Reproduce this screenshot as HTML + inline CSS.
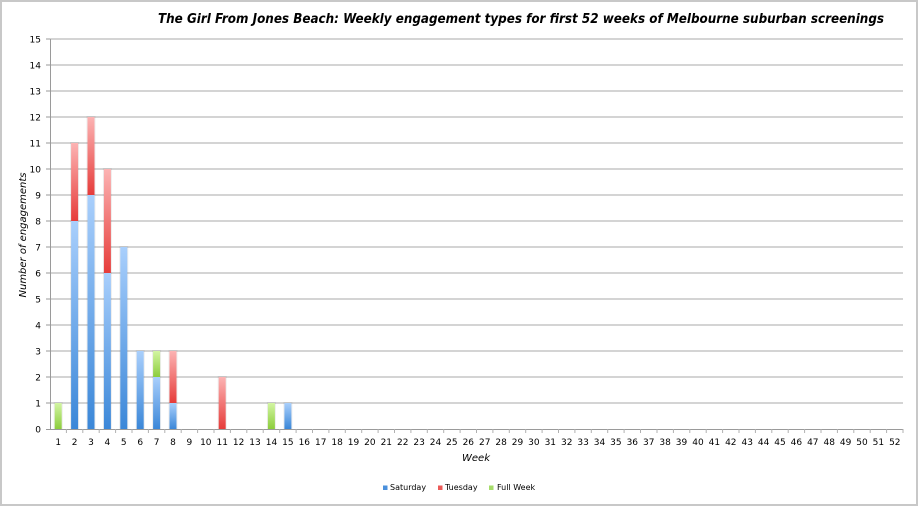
<!DOCTYPE html>
<html><head><meta charset="utf-8"><style>
html,body{margin:0;padding:0;background:#fff;}
svg{display:block;}
text{font-family:"DejaVu Sans","Liberation Sans",sans-serif;fill:#000;}
</style></head><body>
<svg width="918" height="506" viewBox="0 0 918 506" xmlns="http://www.w3.org/2000/svg">
<defs>
<linearGradient id="gb" x1="0" y1="0" x2="0" y2="1"><stop offset="0" stop-color="#a9cffc"/><stop offset="1" stop-color="#3b87d8"/></linearGradient>
<linearGradient id="gr" x1="0" y1="0" x2="0" y2="1"><stop offset="0" stop-color="#fcb3b3"/><stop offset="1" stop-color="#e63c3a"/></linearGradient>
<linearGradient id="gg" x1="0" y1="0" x2="0" y2="1"><stop offset="0" stop-color="#d2f5a2"/><stop offset="1" stop-color="#8ccd3c"/></linearGradient>
</defs>
<rect x="0" y="0" width="918" height="506" fill="#fff"/>
<rect x="1" y="1" width="916" height="504" fill="none" stroke="#c8c8c8" stroke-width="2"/>

<text x="158" y="23" font-size="13" font-weight="bold" font-style="italic" textLength="726" lengthAdjust="spacingAndGlyphs">The Girl From Jones Beach: Weekly engagement types for first 52 weeks of Melbourne suburban screenings</text>

<!-- gridlines -->
<g stroke="#c6c6c6" stroke-width="1.6">
<line x1="50" y1="403" x2="903" y2="403"/><line x1="50" y1="377" x2="903" y2="377"/><line x1="50" y1="351" x2="903" y2="351"/><line x1="50" y1="325" x2="903" y2="325"/><line x1="50" y1="299" x2="903" y2="299"/><line x1="50" y1="273" x2="903" y2="273"/><line x1="50" y1="247" x2="903" y2="247"/><line x1="50" y1="221" x2="903" y2="221"/><line x1="50" y1="195" x2="903" y2="195"/><line x1="50" y1="169" x2="903" y2="169"/><line x1="50" y1="143" x2="903" y2="143"/><line x1="50" y1="117" x2="903" y2="117"/><line x1="50" y1="91" x2="903" y2="91"/><line x1="50" y1="65" x2="903" y2="65"/><line x1="50" y1="39" x2="903" y2="39"/>
</g>

<!-- bars shadows -->
<g fill="#000" fill-opacity="0.07">
<rect x="53.7" y="402" width="9" height="27"/>
<rect x="70.1" y="142" width="9" height="287"/>
<rect x="86.5" y="116" width="9" height="313"/>
<rect x="102.9" y="168" width="9" height="261"/>
<rect x="119.3" y="246" width="9" height="183"/>
<rect x="135.7" y="350" width="9" height="79"/>
<rect x="152.1" y="350" width="9" height="79"/>
<rect x="168.5" y="350" width="9" height="79"/>
<rect x="217.7" y="376" width="9" height="53"/>
<rect x="266.9" y="402" width="9" height="27"/>
<rect x="283.4" y="402" width="9" height="27"/>
</g>
<!-- bars -->
<rect x="54.7" y="403" width="7" height="26" fill="url(#gg)"/>
<rect x="71.1" y="221" width="7" height="208" fill="url(#gb)"/>
<rect x="71.1" y="143" width="7" height="78" fill="url(#gr)"/>
<rect x="87.5" y="195" width="7" height="234" fill="url(#gb)"/>
<rect x="87.5" y="117" width="7" height="78" fill="url(#gr)"/>
<rect x="103.9" y="273" width="7" height="156" fill="url(#gb)"/>
<rect x="103.9" y="169" width="7" height="104" fill="url(#gr)"/>
<rect x="120.3" y="247" width="7" height="182" fill="url(#gb)"/>
<rect x="136.7" y="351" width="7" height="78" fill="url(#gb)"/>
<rect x="153.1" y="377" width="7" height="52" fill="url(#gb)"/>
<rect x="153.1" y="351" width="7" height="26" fill="url(#gg)"/>
<rect x="169.5" y="403" width="7" height="26" fill="url(#gb)"/>
<rect x="169.5" y="351" width="7" height="52" fill="url(#gr)"/>
<rect x="218.7" y="377" width="7" height="52" fill="url(#gr)"/>
<rect x="267.9" y="403" width="7" height="26" fill="url(#gg)"/>
<rect x="284.4" y="403" width="7" height="26" fill="url(#gb)"/>

<!-- axes -->
<g stroke="#9a9a9a" stroke-width="1">
<line x1="50.5" y1="39" x2="50.5" y2="429"/>
<line x1="46" y1="429.5" x2="903" y2="429.5"/>
<line x1="46" y1="403" x2="50" y2="403"/><line x1="46" y1="377" x2="50" y2="377"/><line x1="46" y1="351" x2="50" y2="351"/><line x1="46" y1="325" x2="50" y2="325"/><line x1="46" y1="299" x2="50" y2="299"/><line x1="46" y1="273" x2="50" y2="273"/><line x1="46" y1="247" x2="50" y2="247"/><line x1="46" y1="221" x2="50" y2="221"/><line x1="46" y1="195" x2="50" y2="195"/><line x1="46" y1="169" x2="50" y2="169"/><line x1="46" y1="143" x2="50" y2="143"/><line x1="46" y1="117" x2="50" y2="117"/><line x1="46" y1="91" x2="50" y2="91"/><line x1="46" y1="65" x2="50" y2="65"/><line x1="46" y1="39" x2="50" y2="39"/>
</g>
<g stroke="#b0b0b0" stroke-width="1">
<line x1="66.4" y1="429" x2="66.4" y2="433"/><line x1="82.8" y1="429" x2="82.8" y2="433"/><line x1="99.2" y1="429" x2="99.2" y2="433"/><line x1="115.6" y1="429" x2="115.6" y2="433"/><line x1="132" y1="429" x2="132" y2="433"/><line x1="148.4" y1="429" x2="148.4" y2="433"/><line x1="164.8" y1="429" x2="164.8" y2="433"/><line x1="181.2" y1="429" x2="181.2" y2="433"/><line x1="197.6" y1="429" x2="197.6" y2="433"/><line x1="214" y1="429" x2="214" y2="433"/><line x1="230.4" y1="429" x2="230.4" y2="433"/><line x1="246.8" y1="429" x2="246.8" y2="433"/><line x1="263.2" y1="429" x2="263.2" y2="433"/><line x1="279.7" y1="429" x2="279.7" y2="433"/><line x1="296.1" y1="429" x2="296.1" y2="433"/><line x1="312.5" y1="429" x2="312.5" y2="433"/><line x1="328.9" y1="429" x2="328.9" y2="433"/><line x1="345.3" y1="429" x2="345.3" y2="433"/><line x1="361.7" y1="429" x2="361.7" y2="433"/><line x1="378.1" y1="429" x2="378.1" y2="433"/><line x1="394.5" y1="429" x2="394.5" y2="433"/><line x1="410.9" y1="429" x2="410.9" y2="433"/><line x1="427.3" y1="429" x2="427.3" y2="433"/><line x1="443.7" y1="429" x2="443.7" y2="433"/><line x1="460.1" y1="429" x2="460.1" y2="433"/><line x1="476.5" y1="429" x2="476.5" y2="433"/><line x1="492.9" y1="429" x2="492.9" y2="433"/><line x1="509.3" y1="429" x2="509.3" y2="433"/><line x1="525.7" y1="429" x2="525.7" y2="433"/><line x1="542.1" y1="429" x2="542.1" y2="433"/><line x1="558.5" y1="429" x2="558.5" y2="433"/><line x1="574.9" y1="429" x2="574.9" y2="433"/><line x1="591.3" y1="429" x2="591.3" y2="433"/><line x1="607.7" y1="429" x2="607.7" y2="433"/><line x1="624.1" y1="429" x2="624.1" y2="433"/><line x1="640.5" y1="429" x2="640.5" y2="433"/><line x1="657" y1="429" x2="657" y2="433"/><line x1="673.4" y1="429" x2="673.4" y2="433"/><line x1="689.8" y1="429" x2="689.8" y2="433"/><line x1="706.2" y1="429" x2="706.2" y2="433"/><line x1="722.6" y1="429" x2="722.6" y2="433"/><line x1="739" y1="429" x2="739" y2="433"/><line x1="755.4" y1="429" x2="755.4" y2="433"/><line x1="771.8" y1="429" x2="771.8" y2="433"/><line x1="788.2" y1="429" x2="788.2" y2="433"/><line x1="804.6" y1="429" x2="804.6" y2="433"/><line x1="821" y1="429" x2="821" y2="433"/><line x1="837.4" y1="429" x2="837.4" y2="433"/><line x1="853.8" y1="429" x2="853.8" y2="433"/><line x1="870.2" y1="429" x2="870.2" y2="433"/><line x1="886.6" y1="429" x2="886.6" y2="433"/><line x1="903" y1="429" x2="903" y2="433"/>
</g>

<!-- y labels -->
<g font-size="9" text-anchor="end">
<text x="41" y="432.5">0</text><text x="41" y="406.5">1</text><text x="41" y="380.5">2</text><text x="41" y="354.5">3</text><text x="41" y="328.5">4</text><text x="41" y="302.5">5</text><text x="41" y="276.5">6</text><text x="41" y="250.5">7</text><text x="41" y="224.5">8</text><text x="41" y="198.5">9</text><text x="41" y="172.5">10</text><text x="41" y="146.5">11</text><text x="41" y="120.5">12</text><text x="41" y="94.5">13</text><text x="41" y="68.5">14</text><text x="41" y="42.5">15</text>
</g>

<!-- x labels -->
<g font-size="9" text-anchor="middle">
<text x="58.2" y="445">1</text><text x="74.6" y="445">2</text><text x="91" y="445">3</text><text x="107.4" y="445">4</text><text x="123.8" y="445">5</text><text x="140.2" y="445">6</text><text x="156.6" y="445">7</text><text x="173" y="445">8</text><text x="189.4" y="445">9</text><text x="205.8" y="445">10</text><text x="222.2" y="445">11</text><text x="238.6" y="445">12</text><text x="255" y="445">13</text><text x="271.5" y="445">14</text><text x="287.9" y="445">15</text><text x="304.3" y="445">16</text><text x="320.7" y="445">17</text><text x="337.1" y="445">18</text><text x="353.5" y="445">19</text><text x="369.9" y="445">20</text><text x="386.3" y="445">21</text><text x="402.7" y="445">22</text><text x="419.1" y="445">23</text><text x="435.5" y="445">24</text><text x="451.9" y="445">25</text><text x="468.3" y="445">26</text><text x="484.7" y="445">27</text><text x="501.1" y="445">28</text><text x="517.5" y="445">29</text><text x="533.9" y="445">30</text><text x="550.3" y="445">31</text><text x="566.7" y="445">32</text><text x="583.1" y="445">33</text><text x="599.5" y="445">34</text><text x="615.9" y="445">35</text><text x="632.3" y="445">36</text><text x="648.7" y="445">37</text><text x="665.1" y="445">38</text><text x="681.5" y="445">39</text><text x="698" y="445">40</text><text x="714.4" y="445">41</text><text x="730.8" y="445">42</text><text x="747.2" y="445">43</text><text x="763.6" y="445">44</text><text x="780" y="445">45</text><text x="796.4" y="445">46</text><text x="812.8" y="445">47</text><text x="829.2" y="445">48</text><text x="845.6" y="445">49</text><text x="862" y="445">50</text><text x="878.4" y="445">51</text><text x="894.8" y="445">52</text>
</g>

<!-- axis titles -->
<text x="476" y="461" font-size="10" font-style="italic" text-anchor="middle">Week</text>
<text transform="translate(26,235) rotate(-90)" x="0" y="0" font-size="10" font-style="italic" text-anchor="middle">Number of engagements</text>

<!-- legend -->
<rect x="383" y="485.5" width="4.5" height="4.5" fill="#4a90dc"/>
<text x="390" y="490" font-size="8">Saturday</text>
<rect x="438" y="485.5" width="4.5" height="4.5" fill="#ec5a58"/>
<text x="445" y="490" font-size="8">Tuesday</text>
<rect x="489" y="485.5" width="4.5" height="4.5" fill="#a6dc6a"/>
<text x="497" y="490" font-size="8">Full Week</text>
</svg>
</body></html>
